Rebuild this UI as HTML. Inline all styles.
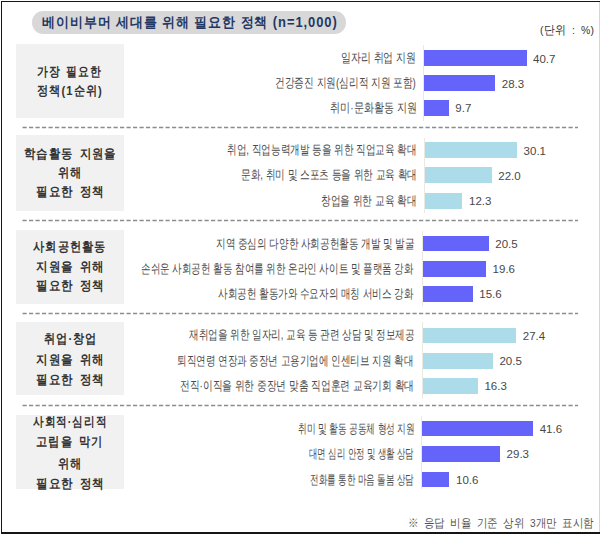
<!DOCTYPE html>
<html><head><meta charset="utf-8"><style>
*{margin:0;padding:0;box-sizing:border-box}
html,body{width:600px;height:534px;overflow:hidden;background:#fff}
body{position:relative;font-family:"Liberation Sans",sans-serif;color:#333}
.fl{position:absolute}
.pill{position:absolute;left:32px;top:11px;width:314px;height:22.5px;border-radius:11.25px;background:#d8d8d8}
.t{position:absolute;white-space:nowrap}
.t span{display:inline-block;white-space:nowrap}
.title{font-size:14px;font-weight:bold;color:#1f3864;line-height:22px;letter-spacing:1px}
.box{position:absolute;left:16px;width:108px;background:#f1f1f1}
.bl{font-size:13px;font-weight:bold;color:#333;line-height:20px;letter-spacing:1.2px;word-spacing:2px}
.dash{position:absolute;left:22px;width:556px;height:1px;background:repeating-linear-gradient(90deg,#959595 0,#959595 4.4px,transparent 4.4px,transparent 6.7px)}
.bar{position:absolute}
.axis{position:absolute;width:1px;background:#ebe8e0}
.lab{font-size:13px;color:#4a4a4a;line-height:16px}
.val{font-size:11.5px;color:#484848;line-height:16px}
.unit{font-size:11.5px;color:#333;line-height:16px;font-weight:500;word-spacing:3px;letter-spacing:0.3px}
.foot{font-size:11.5px;color:#555;line-height:16px;word-spacing:3px}
</style></head><body>
<div class="fl" style="left:599px;top:2px;width:1px;height:531px;background:#d6d6d6"></div>
<div class="fl" style="left:1px;top:1px;width:599px;height:1.3px;background:#151515"></div>
<div class="fl" style="left:1px;top:1px;width:1.3px;height:533px;background:#151515"></div>
<div class="fl" style="left:1px;top:532px;width:599px;height:2px;background:#151515"></div>
<div class="pill"></div>
<div class="t title" style="left:41.63px;top:11.0px;height:22px"><span id="t0" style="transform-origin:0 50%;transform:scaleX(0.9255)">베이비부머 세대를 위해 필요한 정책 (n=1,000)</span></div>
<div class="t unit" style="left:540.11px;top:21.8px;height:16px"><span id="t1" style="transform-origin:0 50%;transform:scaleX(0.9080)">(단위 : %)</span></div>
<div class="box" style="top:44px;height:74px"></div>
<div class="t bl" style="left:36.99px;top:61.6px;height:20px"><span id="t2" style="transform-origin:0 50%;transform:scaleX(0.8349)">가장 필요한</span></div>
<div class="t bl" style="left:37.09px;top:81.0px;height:20px"><span id="t3" style="transform-origin:0 50%;transform:scaleX(0.8625)">정책(1순위)</span></div>
<div class="axis" style="left:423.0px;top:45px;height:76px"></div>
<div class="bar" style="left:424px;top:50.2px;width:102.5px;height:15.6px;background:#6464fb"></div>
<div class="t lab" style="left:340.50px;top:50.0px;height:16px"><span id="t4" style="transform-origin:0 50%;transform:scaleX(0.7640)">일자리 취업 지원</span></div>
<div class="t val" style="left:533.0px;top:50.5px;height:16px">40.7</div>
<div class="bar" style="left:424px;top:75.2px;width:71.3px;height:15.6px;background:#6464fb"></div>
<div class="t lab" style="left:274.51px;top:75.0px;height:16px"><span id="t5" style="transform-origin:0 50%;transform:scaleX(0.7471)">건강증진 지원(심리적 지원 포함)</span></div>
<div class="t val" style="left:501.8px;top:75.5px;height:16px">28.3</div>
<div class="bar" style="left:424px;top:100.1px;width:24.8px;height:15.6px;background:#6464fb"></div>
<div class="t lab" style="left:329.50px;top:99.9px;height:16px"><span id="t6" style="transform-origin:0 50%;transform:scaleX(0.7769)">취미·문화활동 지원</span></div>
<div class="t val" style="left:455.3px;top:100.4px;height:16px">9.7</div>
<div class="box" style="top:135px;height:76px"></div>
<div class="t bl" style="left:23.98px;top:143.5px;height:20px"><span id="t7" style="transform-origin:0 50%;transform:scaleX(0.8748)">학습활동 지원을</span></div>
<div class="t bl" style="left:57.73px;top:163.2px;height:20px"><span id="t8" style="transform-origin:0 50%;transform:scaleX(0.8639)">위해</span></div>
<div class="t bl" style="left:35.85px;top:182.2px;height:20px"><span id="t9" style="transform-origin:0 50%;transform:scaleX(0.8853)">필요한 정책</span></div>
<div class="axis" style="left:423.7px;top:138px;height:75px"></div>
<div class="bar" style="left:424.7px;top:142.2px;width:92.4px;height:15.6px;background:#acdcea"></div>
<div class="t lab" style="left:226.53px;top:142.0px;height:16px"><span id="t10" style="transform-origin:0 50%;transform:scaleX(0.7409)">취업, 직업능력개발 등을 위한 직업교육 확대</span></div>
<div class="t val" style="left:523.6px;top:142.5px;height:16px">30.1</div>
<div class="bar" style="left:424.7px;top:167.3px;width:67.1px;height:15.6px;background:#acdcea"></div>
<div class="t lab" style="left:240.85px;top:167.1px;height:16px"><span id="t11" style="transform-origin:0 50%;transform:scaleX(0.7429)">문화, 취미 및 스포츠 등을 위한 교육 확대</span></div>
<div class="t val" style="left:498.3px;top:167.6px;height:16px">22.0</div>
<div class="bar" style="left:424.7px;top:193.1px;width:37.8px;height:15.6px;background:#acdcea"></div>
<div class="t lab" style="left:320.74px;top:192.9px;height:16px"><span id="t12" style="transform-origin:0 50%;transform:scaleX(0.7457)">창업을 위한 교육 확대</span></div>
<div class="t val" style="left:469.0px;top:193.4px;height:16px">12.3</div>
<div class="box" style="top:229.5px;height:74.5px"></div>
<div class="t bl" style="left:32.98px;top:236.5px;height:20px"><span id="t13" style="transform-origin:0 50%;transform:scaleX(0.8641)">사회공헌활동</span></div>
<div class="t bl" style="left:35.85px;top:257.2px;height:20px"><span id="t14" style="transform-origin:0 50%;transform:scaleX(0.8853)">지원을 위해</span></div>
<div class="t bl" style="left:35.85px;top:276.2px;height:20px"><span id="t15" style="transform-origin:0 50%;transform:scaleX(0.8853)">필요한 정책</span></div>
<div class="axis" style="left:422.2px;top:231px;height:75px"></div>
<div class="bar" style="left:423.2px;top:235.8px;width:65.6px;height:15.6px;background:#6464fb"></div>
<div class="t lab" style="left:216.07px;top:235.6px;height:16px"><span id="t16" style="transform-origin:0 50%;transform:scaleX(0.7388)">지역 중심의 다양한 사회공헌활동 개발 및 발굴</span></div>
<div class="t val" style="left:495.3px;top:236.1px;height:16px">20.5</div>
<div class="bar" style="left:423.2px;top:261px;width:62.9px;height:15.6px;background:#6464fb"></div>
<div class="t lab" style="left:141.19px;top:260.8px;height:16px"><span id="t17" style="transform-origin:0 50%;transform:scaleX(0.7354)">손쉬운 사회공헌 활동 참여를 위한 온라인 사이트 및 플랫폼 강화</span></div>
<div class="t val" style="left:492.6px;top:261.3px;height:16px">19.6</div>
<div class="bar" style="left:423.2px;top:286.1px;width:49.6px;height:15.6px;background:#6464fb"></div>
<div class="t lab" style="left:218.19px;top:285.9px;height:16px"><span id="t18" style="transform-origin:0 50%;transform:scaleX(0.7362)">사회공헌 활동가와 수요자의 매칭 서비스 강화</span></div>
<div class="t val" style="left:479.3px;top:286.4px;height:16px">15.6</div>
<div class="box" style="top:322px;height:73px"></div>
<div class="t bl" style="left:43.53px;top:329.1px;height:20px"><span id="t19" style="transform-origin:0 50%;transform:scaleX(0.8598)">취업·창업</span></div>
<div class="t bl" style="left:35.85px;top:350.2px;height:20px"><span id="t20" style="transform-origin:0 50%;transform:scaleX(0.8853)">지원을 위해</span></div>
<div class="t bl" style="left:35.85px;top:369.6px;height:20px"><span id="t21" style="transform-origin:0 50%;transform:scaleX(0.8853)">필요한 정책</span></div>
<div class="axis" style="left:421.5px;top:322px;height:76.69999999999999px"></div>
<div class="bar" style="left:422.5px;top:327.5px;width:93.8px;height:15.6px;background:#acdcea"></div>
<div class="t lab" style="left:189.00px;top:327.3px;height:16px"><span id="t22" style="transform-origin:0 50%;transform:scaleX(0.7383)">재취업을 위한 일자리, 교육 등 관련 상담 및 정보제공</span></div>
<div class="t val" style="left:522.8px;top:327.8px;height:16px">27.4</div>
<div class="bar" style="left:422.5px;top:353px;width:70.4px;height:15.6px;background:#acdcea"></div>
<div class="t lab" style="left:177.18px;top:352.8px;height:16px"><span id="t23" style="transform-origin:0 50%;transform:scaleX(0.7365)">퇴직연령 연장과 중장년 고용기업에 인센티브 지원 확대</span></div>
<div class="t val" style="left:499.4px;top:353.3px;height:16px">20.5</div>
<div class="bar" style="left:422.5px;top:378.1px;width:55.4px;height:15.6px;background:#acdcea"></div>
<div class="t lab" style="left:180.07px;top:377.9px;height:16px"><span id="t24" style="transform-origin:0 50%;transform:scaleX(0.7505)">전직·이직을 위한 중장년 맞춤 직업훈련 교육기회 확대</span></div>
<div class="t val" style="left:484.4px;top:378.4px;height:16px">16.3</div>
<div class="box" style="top:414.5px;height:74.5px"></div>
<div class="t bl" style="left:32.70px;top:412.0px;height:20px"><span id="t25" style="transform-origin:0 50%;transform:scaleX(0.8173)">사회적·심리적</span></div>
<div class="t bl" style="left:35.84px;top:432.2px;height:20px"><span id="t26" style="transform-origin:0 50%;transform:scaleX(0.8647)">고립을 막기</span></div>
<div class="t bl" style="left:57.73px;top:453.8px;height:20px"><span id="t27" style="transform-origin:0 50%;transform:scaleX(0.8639)">위해</span></div>
<div class="t bl" style="left:35.85px;top:473.6px;height:20px"><span id="t28" style="transform-origin:0 50%;transform:scaleX(0.8853)">필요한 정책</span></div>
<div class="axis" style="left:420.7px;top:416px;height:73.39999999999998px"></div>
<div class="bar" style="left:421.7px;top:420.8px;width:111.5px;height:15.6px;background:#6464fb"></div>
<div class="t lab" style="left:297.94px;top:420.6px;height:16px"><span id="t29" style="transform-origin:0 50%;transform:scaleX(0.6717)">취미 및 활동 공동체 형성 지원</span></div>
<div class="t val" style="left:539.7px;top:421.1px;height:16px">41.6</div>
<div class="bar" style="left:421.7px;top:446px;width:78.4px;height:15.6px;background:#6464fb"></div>
<div class="t lab" style="left:309.12px;top:445.8px;height:16px"><span id="t30" style="transform-origin:0 50%;transform:scaleX(0.6502)">대면 심리 안정 및 생활 상담</span></div>
<div class="t val" style="left:506.6px;top:446.3px;height:16px">29.3</div>
<div class="bar" style="left:421.7px;top:471.7px;width:27.8px;height:15.6px;background:#6464fb"></div>
<div class="t lab" style="left:309.95px;top:471.5px;height:16px"><span id="t31" style="transform-origin:0 50%;transform:scaleX(0.6596)">전화를 통한 마음 돌봄 상담</span></div>
<div class="t val" style="left:456.0px;top:472.0px;height:16px">10.6</div>
<svg style="position:absolute;left:0;top:0" width="600" height="534"><line x1="22.5" y1="127.5" x2="578" y2="127.5" stroke="#8c8c8c" stroke-width="1.4" stroke-dasharray="4.2 2.3"/><line x1="22.5" y1="220.5" x2="578" y2="220.5" stroke="#8c8c8c" stroke-width="1.4" stroke-dasharray="4.2 2.3"/><line x1="22.5" y1="313.5" x2="578" y2="313.5" stroke="#8c8c8c" stroke-width="1.4" stroke-dasharray="4.2 2.3"/><line x1="22.5" y1="405.5" x2="578" y2="405.5" stroke="#8c8c8c" stroke-width="1.4" stroke-dasharray="4.2 2.3"/></svg>
<div class="t foot" style="left:408.40px;top:515.0px;height:16px"><span id="t32" style="transform-origin:0 50%;transform:scaleX(0.8771)">※ 응답 비율 기준 상위 3개만 표시함</span></div>
</body></html>
